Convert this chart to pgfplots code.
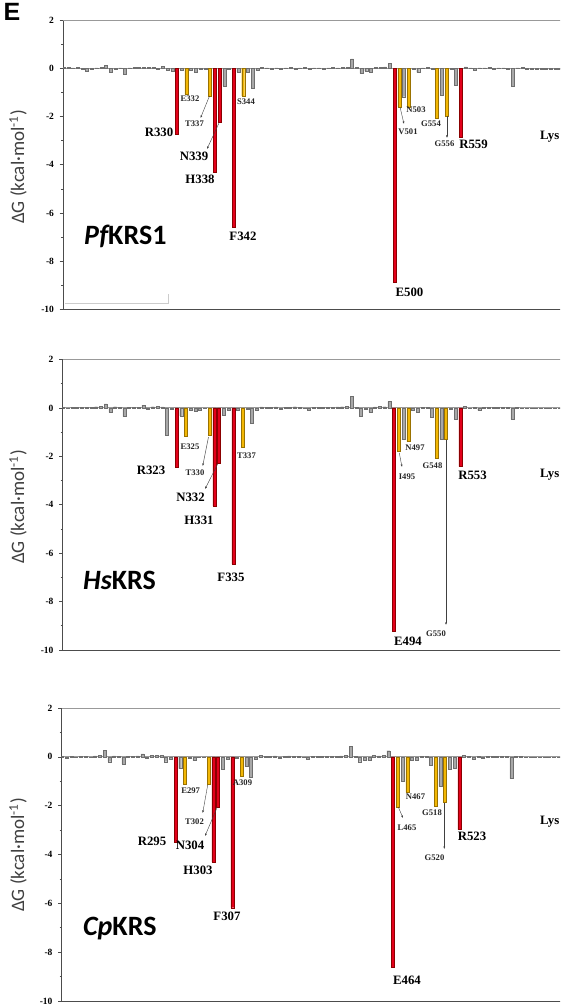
\documentclass[border=0pt]{standalone}
\usepackage{pgfplots}
\pgfplotsset{compat=1.18}
\usepackage{fontspec}
\setmainfont{Liberation Serif}
\newfontfamily\lsans{Liberation Sans}
\newfontfamily\carl{Carlito}
\usetikzlibrary{arrows.meta}
\definecolor{bred}{HTML}{E3001B}
\definecolor{bredd}{HTML}{8B0000}
\definecolor{byel}{HTML}{F2B705}
\definecolor{byeld}{HTML}{9A7200}
\definecolor{bgray}{HTML}{A8A8A8}
\definecolor{bgrayd}{HTML}{6E6E6E}
\pgfplotsset{
 panel/.style={scale only axis, width=520.8pt, xmin=-0.1, xmax=110, ymin=-10, ymax=2, anchor=north west,
   axis x line*=bottom, axis y line*=left, axis line style={-, draw=black!70, line width=0.9pt},
   xtick=\empty, ytick={-10,-8,...,2}, minor ytick={-9,-7,...,1},
   tick align=outside, major tick length=3.5pt, minor tick length=2pt, tick style={black!70, line width=0.6pt},
   /pgf/number format/assume math mode=true,
   yticklabel style={font=\fontsize{9.5}{10}\selectfont\bfseries, xshift=-2pt},
   extra y ticks={0,2}, extra y tick labels={},
   extra y tick style={major tick length=0pt, grid=major, grid style={gray!80, line width=0.9pt}},
 },
 kbar/.style={ybar, bar width=3pt, bar shift=0pt, line width=0.4pt},
 rbar/.style={kbar, fill=bred, draw=bredd},
 ybarc/.style={kbar, fill=byel, draw=byeld},
 gbar/.style={kbar, fill=bgray, draw=bgrayd},
}
\tikzset{sl/.style={font=\fontsize{8.6}{9}\selectfont\bfseries, inner sep=0pt, text=black!85},
 ll/.style={font=\fontsize{12.8}{13}\selectfont\bfseries, inner sep=0pt},
 ar/.style={draw=black!75, line width=0.4pt, -{Latex[length=2.5pt,width=2pt]}},
 sp/.style={font=\carl\fontsize{28}{30}\selectfont\bfseries, anchor=west, inner sep=0pt},
 yl/.style={font=\carl\fontsize{19}{20}\selectfont, rotate=90, text=black!75, inner sep=0pt}}
\begin{document}
\begin{tikzpicture}
\useasboundingbox (0pt,0pt) rectangle (560pt,-1006pt);
\begin{scope}
\clip (0pt,0pt) rectangle (560pt,-1006pt);
% ---------- Panel 1 ----------
\begin{axis}[panel, at={(63pt,-20pt)}, height=289.5pt]
\addplot[gbar] coordinates {(0,0.04)(1,0.03)(2,0.02)(3,0.03)(4,-0.03)(5,-0.14)(6,-0.03)(7,0.02)(8,0.03)(9,0.12)(10,-0.17)(11,-0.03)(12,0.02)(13,-0.23)(14,0.02)(15,0.04)(16,0.05)(17,0.05)(18,0.03)(19,0.05)(20,-0.04)(21,0.08)(22,-0.1)(23,-0.12)(25,-0.1)(27,-0.08)(28,-0.15)(29,-0.05)(30,-0.06)(34,-0.73)(35,-0.05)(37,-0.15)(39,-0.18)(40,-0.83)(41,-0.1)(42,0.04)(43,0.02)(44,-0.03)(45,0.02)(46,-0.05)(47,0.02)(48,0.03)(49,-0.06)(50,0.02)(51,0.03)(52,-0.04)(53,0.02)(54,0.02)(55,-0.03)(56,0.02)(57,0.03)(58,0.02)(59,0.04)(60,0.05)(61,0.39)(62,0.03)(63,-0.21)(64,-0.12)(65,-0.15)(66,0.03)(67,0.05)(68,0.06)(69,0.2)(72,-1.18)(74,-0.05)(75,-0.17)(76,0.02)(77,0.03)(78,-0.04)(80,-1.11)(82,-0.05)(83,-0.69)(85,0.06)(86,0.02)(87,-0.08)(88,0.02)(89,0.02)(90,0.03)(91,-0.06)(92,0.02)(93,0.02)(94,-0.02)(95,-0.76)(96,0.02)(97,0.03)(98,-0.03)(99,-0.03)(100,-0.03)(101,-0.03)(102,-0.03)(103,-0.02)(104,-0.02)(105,-0.02)(106,-0.02)};
\addplot[ybarc] coordinates {(26,-1.08)(31,-1.14)(38,-1.15)(71,-1.6)(73,-1.6)(79,-2.07)(81,-1.98)};
\addplot[rbar] coordinates {(24,-2.75)(32,-4.3)(33,-2.24)(36,-6.57)(70,-8.85)(84,-2.84)};
\end{axis}
% ---------- Panel 2 ----------
\begin{axis}[panel, at={(62.5pt,-359.5pt)}, height=290.5pt]
\addplot[gbar] coordinates {(0,0.02)(1,-0.03)(2,0.02)(3,0.02)(4,0.03)(5,0.02)(6,0.03)(7,0.05)(8,0.06)(9,0.17)(10,-0.18)(11,0.05)(12,0.02)(13,-0.36)(14,0.02)(15,0.02)(16,0.03)(17,0.12)(18,-0.05)(19,0.05)(20,0.06)(21,0.04)(22,-1.13)(23,-0.05)(25,-0.33)(27,-0.1)(28,-0.12)(29,-0.1)(30,-0.03)(34,-0.32)(35,-0.1)(37,-0.1)(39,-0.05)(40,-0.63)(41,-0.1)(42,0.04)(43,0.02)(44,0.03)(45,0.04)(46,-0.05)(47,0.02)(48,0.03)(49,0.05)(50,0.02)(51,-0.03)(52,-0.08)(53,0.02)(54,0.03)(55,0.02)(56,0.02)(57,0.03)(58,0.04)(59,0.05)(60,0.06)(61,0.47)(62,0.03)(63,-0.33)(64,-0.05)(65,-0.18)(66,0.04)(67,0.06)(68,0.05)(69,0.26)(72,-1.28)(74,-0.1)(75,-0.18)(76,0.02)(77,0.03)(78,-0.38)(80,-1.3)(82,-0.04)(83,-0.48)(85,0.06)(86,-0.03)(87,0.02)(88,-0.1)(89,0.02)(90,0.03)(91,0.02)(92,0.02)(93,0.03)(94,0.02)(95,-0.48)(96,0.03)(97,-0.02)(98,-0.03)(99,-0.03)(100,-0.02)(101,-0.02)(102,-0.02)(103,-0.02)(104,-0.02)(105,-0.02)(106,-0.02)};
\addplot[ybarc] coordinates {(26,-1.17)(31,-1.11)(38,-1.62)(71,-1.8)(73,-1.39)(79,-2.07)(81,-1.28)};
\addplot[rbar] coordinates {(24,-2.46)(32,-4.05)(33,-2.27)(36,-6.45)(70,-9.22)(84,-2.42)};
\end{axis}
% ---------- Panel 3 ----------
\begin{axis}[panel, at={(61.5pt,-708pt)}, height=293pt]
\addplot[gbar] coordinates {(0,0.02)(1,-0.05)(2,0.02)(3,-0.02)(4,0.02)(5,0.03)(6,-0.03)(7,0.04)(8,0.06)(9,0.27)(10,-0.2)(11,0.04)(12,0.02)(13,-0.3)(14,0.02)(15,0.02)(16,0.04)(17,0.12)(18,-0.05)(19,0.06)(20,0.05)(21,0.06)(22,-0.2)(23,-0.1)(25,-0.48)(27,-0.04)(28,-0.15)(29,-0.03)(30,-0.03)(34,-0.49)(35,-0.08)(37,-0.05)(39,-0.4)(40,-0.82)(41,-0.1)(42,0.05)(43,0.03)(44,0.02)(45,0.04)(46,-0.04)(47,0.02)(48,0.04)(49,0.02)(50,0.02)(51,-0.03)(52,-0.08)(53,0.02)(54,0.02)(55,0.02)(56,0.03)(57,0.02)(58,0.03)(59,0.04)(60,0.05)(61,0.44)(62,0.03)(63,-0.2)(64,-0.15)(65,-0.15)(66,0.05)(67,0.04)(68,0.07)(69,0.25)(72,-1.0)(74,-0.12)(75,-0.15)(76,0.02)(77,0.03)(78,-0.36)(80,-1.21)(82,-0.5)(83,-0.45)(85,0.06)(86,0.03)(87,-0.1)(88,0.02)(89,-0.05)(90,0.02)(91,0.03)(92,0.02)(93,0.02)(94,0.02)(95,-0.89)(96,0.02)(97,0.02)(98,-0.02)(99,-0.02)(100,-0.02)(101,-0.02)(102,-0.02)(103,-0.02)(104,-0.02)(105,-0.02)(106,-0.02)};
\addplot[ybarc] coordinates {(26,-1.11)(31,-1.14)(38,-0.8)(71,-2.06)(73,-1.46)(79,-2.03)(81,-1.87)};
\addplot[rbar] coordinates {(24,-3.5)(32,-4.3)(33,-2.06)(36,-6.18)(70,-8.62)(84,-2.98)};
\end{axis}
% ---------- texts ----------
\node[font=\lsans\fontsize{25}{26}\selectfont\bfseries, inner sep=0pt] at (12pt,-12pt) {E};
\node[yl] at (18pt,-167pt) {ΔG (kcal·mol\textsuperscript{-1})};
\node[yl] at (18pt,-507pt) {ΔG (kcal·mol\textsuperscript{-1})};
\node[yl] at (18pt,-855pt) {ΔG (kcal·mol\textsuperscript{-1})};
\node[sp] at (84pt,-236pt) {\itshape Pf\upshape KRS1};
\node[sp] at (83pt,-580pt) {\itshape Hs\upshape KRS};
\node[sp] at (83pt,-929pt) {\itshape Cp\upshape KRS};
\draw[gray!40, line width=0.6pt] (65pt,-303pt) -- (168pt,-303pt) -- (168pt,-294pt);
% panel 1 labels
\node[sl] at (190pt,-99pt) {E332};
\node[sl] at (194.5pt,-124pt) {T337};
\node[sl] at (246pt,-101.7pt) {S344};
\node[sl] at (408pt,-131.7pt) {V501};
\node[sl] at (416pt,-110pt) {N503};
\node[sl] at (431pt,-123.3pt) {G554};
\node[sl] at (444.5pt,-144pt) {G556};
\node[ll] at (159pt,-132pt) {R330};
\node[ll] at (194pt,-156pt) {N339};
\node[ll] at (200pt,-179pt) {H338};
\node[ll] at (243pt,-236pt) {F342};
\node[ll] at (409.5pt,-292pt) {E500};
\node[ll] at (473.5pt,-144pt) {R559};
\node[ll, anchor=east] at (559.5pt,-137pt) {Lys};
\draw[ar] (209.5pt,-96pt) -- (200.5pt,-118pt);
\draw[ar] (219pt,-123pt) -- (207pt,-149pt);
\draw[ar] (400pt,-107pt) -- (404pt,-124pt);
\draw[ar] (447pt,-116pt) -- (447pt,-138pt);
% panel 2 labels
\node[sl] at (190pt,-447pt) {E325};
\node[sl] at (195pt,-473pt) {T330};
\node[sl] at (246.5pt,-456pt) {T337};
\node[sl] at (415pt,-448pt) {N497};
\node[sl] at (407pt,-477pt) {I495};
\node[sl] at (432.5pt,-466pt) {G548};
\node[sl] at (436pt,-634pt) {G550};
\node[ll] at (151pt,-470pt) {R323};
\node[ll] at (190.5pt,-497pt) {N332};
\node[ll] at (199pt,-520pt) {H331};
\node[ll] at (231pt,-577pt) {F335};
\node[ll] at (408pt,-641pt) {E494};
\node[ll] at (472.5pt,-475pt) {R553};
\node[ll, anchor=east] at (559.5pt,-475pt) {Lys};
\draw[ar] (208.5pt,-437pt) -- (202.7pt,-466pt);
\draw[ar] (217.7pt,-464pt) -- (205pt,-489pt);
\draw[ar] (399.3pt,-453pt) -- (402pt,-467pt);
\draw[ar] (446pt,-440pt) -- (446pt,-625pt);
% panel 3 labels
\node[sl] at (190.7pt,-791pt) {E297};
\node[sl] at (194.5pt,-822pt) {T302};
\node[sl] at (242.5pt,-783pt) {A309};
\node[sl] at (415.5pt,-797pt) {N467};
\node[sl] at (407pt,-828pt) {L465};
\node[sl] at (432pt,-812.7pt) {G518};
\node[sl] at (434.5pt,-858pt) {G520};
\node[ll] at (152pt,-841pt) {R295};
\node[ll] at (190pt,-845pt) {N304};
\node[ll] at (198pt,-870pt) {H303};
\node[ll] at (227pt,-916pt) {F307};
\node[ll] at (407pt,-980pt) {E464};
\node[ll] at (472pt,-836pt) {R523};
\node[ll, anchor=east] at (559.5pt,-822pt) {Lys};
\draw[ar] (207.7pt,-785pt) -- (202.7pt,-813pt);
\draw[ar] (217.3pt,-807pt) -- (205pt,-836pt);
\draw[ar] (398.3pt,-807pt) -- (403pt,-818pt);
\draw[ar] (444.3pt,-803pt) -- (444.3pt,-849pt);
\end{scope}
\end{tikzpicture}
\end{document}
